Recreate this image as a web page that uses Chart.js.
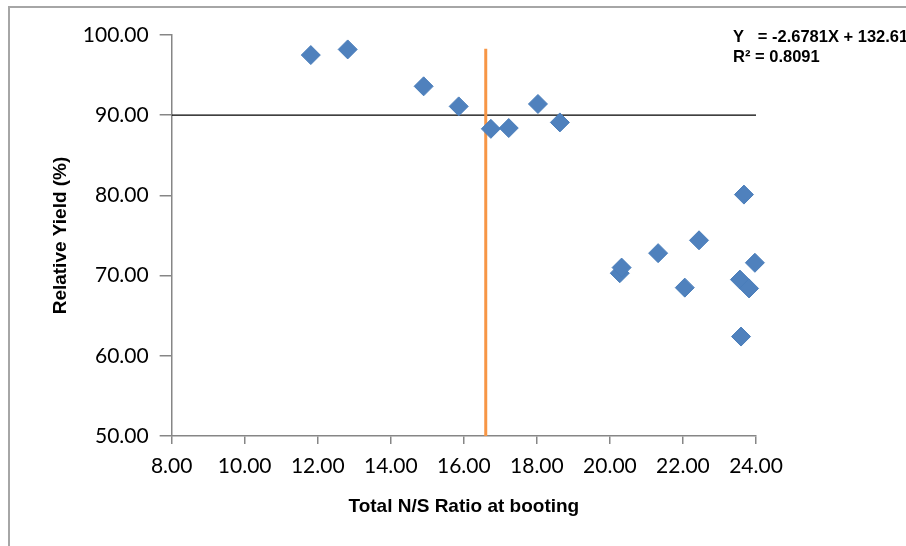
<!DOCTYPE html>
<html>
<head>
<meta charset="utf-8">
<script src="https://cdn.jsdelivr.net/npm/chart.js@4"></script>
<style>
  html, body { margin: 0; padding: 0; background: #fff; }
  #wrap { width: 906px; height: 546px; position: relative; }
</style>
</head>
<body>
<div id="wrap"><canvas id="c" width="906" height="546"></canvas></div>
<script>
// N/S ratio vs relative yield
const nsRatio = [11.81, 12.82, 14.90, 15.86, 16.74, 17.23, 18.03, 18.63, 20.27, 20.32, 21.32, 22.05, 22.44, 23.67, 23.56, 23.81, 23.97, 23.59];
const relYield = [97.5, 98.2, 93.6, 91.1, 88.3, 88.4, 91.4, 89.1, 70.3, 71.0, 72.8, 68.5, 74.4, 80.1, 69.5, 68.4, 71.6, 62.4];

// 90% yield reference line and critical N/S ratio line
const refX = [8, 24];
const refY = [90, 90];
const critX = [16.6, 16.6];
const critY = [50, 98.3];

const xTicks = [8, 10, 12, 14, 16, 18, 20, 22, 24];
const yTicks = [50, 60, 70, 80, 90, 100];

const eqLines = ['Y   = -2.6781X + 132.61', 'R\u00b2 = 0.8091'];

const toPts = (xs, ys) => xs.map((x, i) => ({ x: x, y: ys[i] }));

// frame + regression text
const extras = {
  id: 'extras',
  beforeDraw(chart) {
    const ctx = chart.ctx;
    ctx.save();
    ctx.fillStyle = '#fff';
    ctx.fillRect(0, 0, chart.width, chart.height);
    ctx.strokeStyle = '#a6a6a6';
    ctx.lineWidth = 2;
    ctx.strokeRect(9, 7, 1000, 1000);
    ctx.restore();
  },
  afterDraw(chart) {
    const ctx = chart.ctx;
    ctx.save();
    ctx.fillStyle = '#000';
    ctx.font = 'bold 16.5px "Liberation Sans", Arial, sans-serif';
    ctx.textBaseline = 'middle';
    ctx.fillText(eqLines[0], 733, 37);
    ctx.fillText(eqLines[1], 733, 57);
    ctx.restore();
  }
};

new Chart(document.getElementById('c'), {
  type: 'scatter',
  data: {
    datasets: [
      {
        label: 'ref90',
        type: 'line',
        data: toPts(refX, refY),
        borderColor: '#000',
        borderWidth: 1.3,
        pointRadius: 0,
        order: 3
      },
      {
        label: 'crit',
        type: 'line',
        data: toPts(critX, critY),
        borderColor: '#F79646',
        borderWidth: 3,
        pointRadius: 0,
        order: 2
      },
      {
        label: 'RY',
        data: toPts(nsRatio, relYield),
        pointStyle: 'rectRot',
        pointRadius: 9.5,
        backgroundColor: '#4F81BD',
        borderColor: '#4A7EBB',
        borderWidth: 1,
        clip: false,
        order: 1
      }
    ]
  },
  options: {
    responsive: false,
    animation: false,
    layout: { padding: { top: 35, right: 150, left: 49, bottom: 0 } },
    plugins: {
      legend: { display: false },
      tooltip: { enabled: false }
    },
    scales: {
      x: {
        type: 'linear',
        min: 8, max: 24,
        afterBuildTicks: (s) => { s.ticks = xTicks.map(v => ({ value: v })); },
        grid: { drawOnChartArea: false, drawTicks: true, tickLength: 8, color: '#868686', lineWidth: 1.5 },
        border: { color: '#868686', width: 1.5 },
        ticks: {
          color: '#000',
          font: { family: 'Lato', size: 21 },
          padding: 10,
          maxRotation: 0,
          callback: (v) => Number(v).toFixed(2)
        },
        title: {
          display: true,
          text: 'Total N/S Ratio at booting',
          color: '#000',
          font: { family: '"Liberation Sans", Arial', size: 19, weight: 'bold' },
          padding: { top: 6, bottom: 28 }
        }
      },
      y: {
        type: 'linear',
        min: 50, max: 100,
        afterBuildTicks: (s) => { s.ticks = yTicks.map(v => ({ value: v })); },
        grid: { drawOnChartArea: false, drawTicks: true, tickLength: 12, color: '#868686', lineWidth: 1.5 },
        border: { color: '#868686', width: 1.5 },
        ticks: {
          color: '#000',
          font: { family: 'Lato', size: 21 },
          padding: 11,
          callback: (v) => Number(v).toFixed(2)
        },
        title: {
          display: true,
          text: 'Relative Yield (%)',
          color: '#000',
          font: { family: '"Liberation Sans", Arial', size: 19, weight: 'bold' },
          padding: { top: 0, bottom: 0 }
        }
      }
    }
  },
  plugins: [extras]
});
</script>
</body>
</html>
